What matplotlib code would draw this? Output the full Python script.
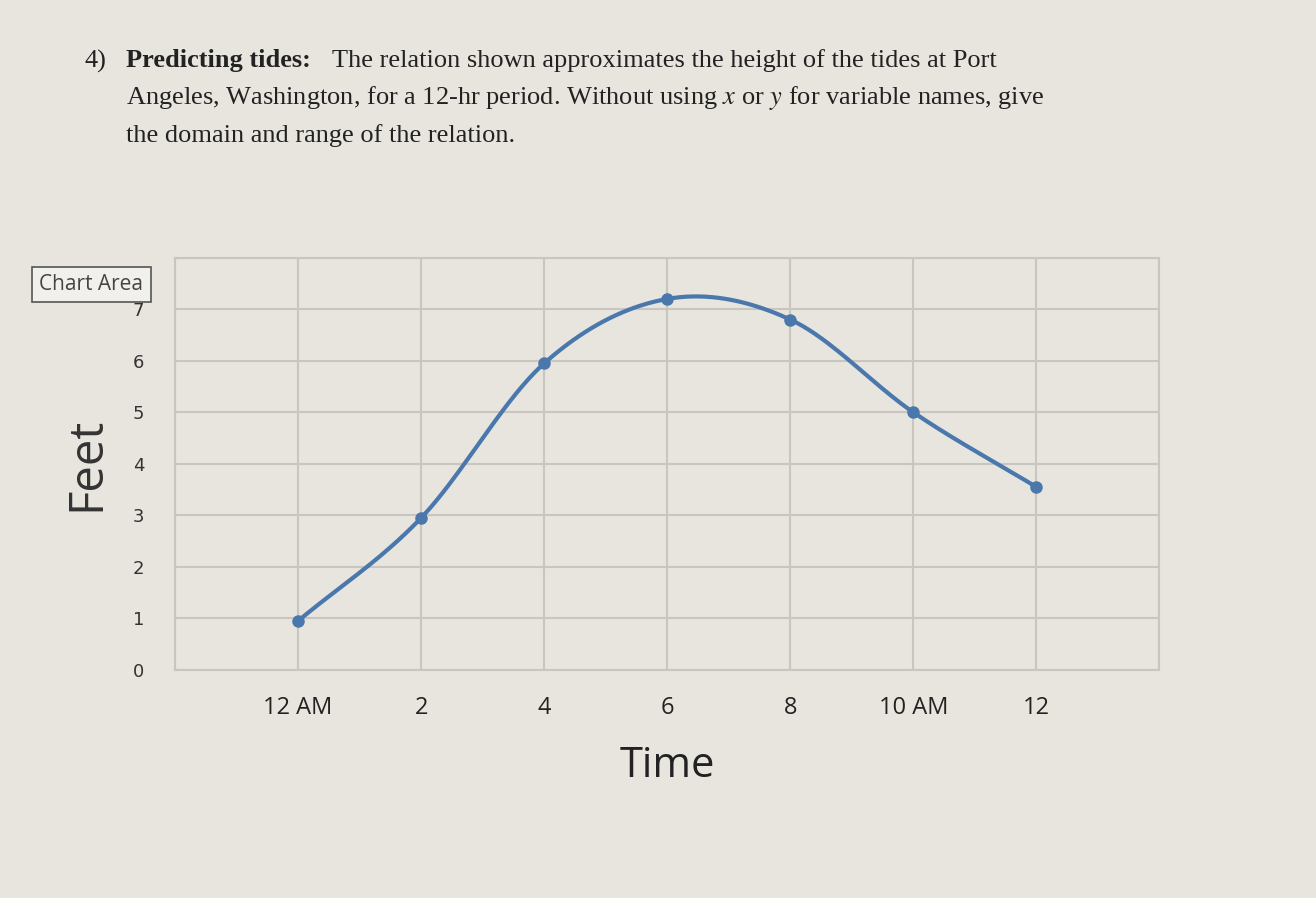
import numpy as np
import matplotlib
matplotlib.use("Agg")
import matplotlib.pyplot as plt

times = ["12 AM", "2", "4", "6", "8", "10 AM", "12"]
feet = [0.95, 2.95, 5.95, 7.2, 6.8, 5.0, 3.55]
yticks = [0, 1, 2, 3, 4, 5, 6, 7]

def catmull(xs, ys, n=40):
    xs = np.asarray(xs, float); ys = np.asarray(ys, float)
    P = np.column_stack([xs, ys])
    P = np.vstack([2*P[0]-P[1], P, 2*P[-1]-P[-2]])
    out = []
    for i in range(1, len(P)-2):
        p0, p1, p2, p3 = P[i-1], P[i], P[i+1], P[i+2]
        t = np.linspace(0, 1, n)[:, None]
        seg = 0.5*((2*p1) + (-p0+p2)*t + (2*p0-5*p1+4*p2-p3)*t**2 + (-p0+3*p1-3*p2+p3)*t**3)
        out.append(seg)
    out = np.vstack(out)
    return out[:, 0], out[:, 1]

bg = "#e8e5df"
plt.rcParams['mathtext.fontset'] = 'stix'
fig = plt.figure(figsize=(13.16, 8.98), dpi=100, facecolor=bg)
ax = fig.add_axes([0.133, 0.254, 0.748, 0.459])
ax.set_facecolor(bg)
xpos = np.arange(1, len(times)+1)
sx, sy = catmull(xpos, feet)
ax.plot(sx, sy, color="#4a78ad", lw=3)
ax.plot(xpos, feet, "o", color="#4a78ad", ms=8)
ax.set_xlim(0, 8)
ax.set_ylim(0, 8)
ax.set_xticks(np.arange(0, 9))
ax.set_xticklabels([""] * 9)
for x, lab in zip(xpos, times):
    ax.text(x, -0.5, lab, ha="center", va="top", fontsize=17, color="#222222", family="Open Sans")
ax.set_yticks(np.arange(0, 9))
ax.set_yticklabels([str(v) for v in yticks] + [""], fontsize=13, color="#333333")
ax.grid(True, color="#c9c6c0", lw=1.5)
ax.tick_params(length=0, pad=22)
for s in ax.spines.values():
    s.set_color("#c9c6c0"); s.set_linewidth(1.5)
ax.set_axisbelow(True)
ax.set_xlabel("Time", fontsize=30, color="#222222", labelpad=32, family="Open Sans")
ax.set_ylabel("Feet", fontsize=34, color="#333333", labelpad=16, family="Open Sans")

serif = "Liberation Serif"
fig.text(0.064, 0.925, "4)", fontsize=19, family=serif, color="#222222")
fig.text(0.096, 0.925, "Predicting tides:", fontsize=19, family=serif, weight="bold", color="#222222")
fig.text(0.252, 0.925, "The relation shown approximates the height of the tides at Port",
         fontsize=19, family=serif, color="#222222")
fig.text(0.096, 0.884, "Angeles, Washington, for a 12-hr period. Without using $x$ or $y$ for variable names, give",
         fontsize=19, family=serif, color="#222222")
fig.text(0.096, 0.842, "the domain and range of the relation.",
         fontsize=19, family=serif, color="#222222")

fig.text(0.030, 0.677, "Chart Area", fontsize=15, family="Open Sans", color="#444444",
         bbox=dict(boxstyle="square,pad=0.35", fc="#f2f0ec", ec="#555555", lw=1.2))

fig.savefig("out.png", dpi=100, facecolor=bg)
